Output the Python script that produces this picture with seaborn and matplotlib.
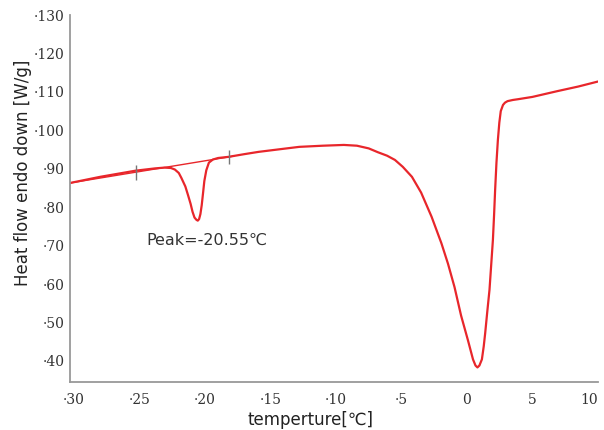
import numpy as np
import pandas as pd
import matplotlib
matplotlib.use("Agg")
import matplotlib.pyplot as plt
import seaborn as sns

# DSC curve (temperature in C, heat flow in W/g)
temp = [-30.3, -28.0, -25.3, -23.8, -23.1, -22.6, -22.3, -22.0, -21.8, -21.5,
        -21.3, -21.1, -20.95, -20.8, -20.65, -20.55, -20.45, -20.35, -20.25, -20.15,
        -20.05, -19.9, -19.7, -19.4, -19.0, -18.2, -17.0, -15.9, -14.0, -12.8,
        -11.0, -9.4, -8.4, -7.5, -6.8, -6.1, -5.5, -4.9, -4.2, -3.5,
        -2.7, -1.95, -1.45, -0.95, -0.45, 0.08, 0.46, 0.65, 0.8, 0.95,
        1.14, 1.28, 1.39, 1.55, 1.72, 1.85, 1.98, 2.07, 2.15, 2.25,
        2.36, 2.47, 2.58, 2.75, 2.9, 3.1, 3.5, 3.9, 5.0, 6.9,
        8.5, 10.0]
heat = [86.3, 87.9, 89.5, 90.1, 90.3, 90.2, 89.8, 88.9, 87.6, 85.4,
        83.2, 80.9, 78.8, 77.3, 76.7, 76.5, 76.9, 78.2, 80.5, 83.6,
        86.8, 89.6, 91.6, 92.4, 92.8, 93.1, 93.8, 94.4, 95.2, 95.7,
        96.0, 96.2, 96.0, 95.3, 94.3, 93.4, 92.3, 90.5, 87.9, 83.8,
        77.5, 70.6, 65.3, 59.2, 51.8, 45.3, 40.4, 38.8, 38.3, 38.8,
        40.4, 43.8, 47.2, 52.8, 58.5, 65.0, 71.5, 78.0, 84.5, 91.5,
        97.5, 102.0, 105.0, 106.6, 107.2, 107.6, 107.9, 108.1, 108.7, 110.2,
        111.4, 112.7]

# straight baseline through the two integration limits
base_x = [-30.3, -17.8]
base_y = [86.3, 93.3]
limit_x = [-25.3, -18.2]
limit_y = [89.1, 93.1]

xticks = [-30, -25, -20, -15, -10, -5, 0, 5, 10]
xticklabels = ['·30', '·25', '·20', '·15', '·10', '·5', '0', '5', '10']
yticks = [40, 50, 60, 70, 80, 90, 100, 110, 120, 130]
yticklabels = ['·40', '·50', '·60', '·70', '·80', '·90', '·100', '·110', '·120', '·130']

sns.set_style("white")
plt.rcParams['font.family'] = ['DejaVu Sans']

df = pd.DataFrame({'temp': temp, 'heat': heat})

fig = plt.figure(figsize=(6.04, 4.30), dpi=100)
ax = fig.add_axes([0.116, 0.112, 0.874, 0.853])

red = '#e8262b'
ax.plot(base_x, base_y, color=red, lw=1.0)
sns.lineplot(data=df, x='temp', y='heat', sort=False, color=red, lw=1.6, ax=ax)
ax.vlines(limit_x, [v - 1.9 for v in limit_y], [v + 1.9 for v in limit_y],
          color='#777777', lw=1.0)

ax.text(-24.5, 71.5, 'Peak=-20.55℃', fontsize=11.5, color='#333333', va='center')

ax.set_xlim(-30.3, 10.0)
ax.set_ylim(34.55, 130)
ax.set_xticks(xticks)
ax.set_xticklabels(xticklabels, family='DejaVu Serif', fontsize=10, color='#333333')
ax.get_xticklabels()[-1].set_horizontalalignment('right')
ax.set_yticks(yticks)
ax.set_yticklabels(yticklabels, family='DejaVu Serif', fontsize=10, color='#333333')
ax.tick_params(axis='both', direction='in', length=2, width=1, color='#666666')
ax.tick_params(axis='x', pad=8)
ax.tick_params(axis='y', pad=4)

for s in ['top', 'right']:
    ax.spines[s].set_visible(False)
for s in ['left', 'bottom']:
    ax.spines[s].set_color('#999999')
    ax.spines[s].set_linewidth(1.3)

ax.set_xlabel('temperture[℃]', fontsize=12, color='#222222')
ax.set_ylabel('Heat flow endo down [W/g]', fontsize=12, color='#222222')
ax.xaxis.set_label_coords(0.455, -0.08)
ax.yaxis.set_label_coords(-0.072, 0.57)

plt.savefig('out.png', dpi=100)
